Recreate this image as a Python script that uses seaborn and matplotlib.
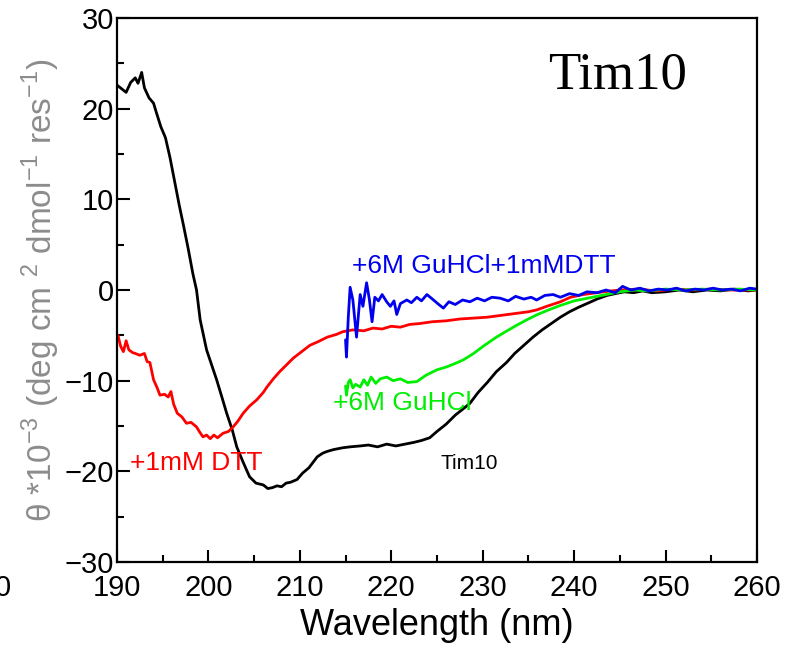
import numpy as np
import pandas as pd
import matplotlib
matplotlib.use("Agg")
import matplotlib.pyplot as plt
import seaborn as sns
from matplotlib.ticker import MultipleLocator

# Tim10 native
wl_native = [190, 190.5, 191, 191.5, 192, 192.3, 192.7, 193, 193.5, 194, 194.3, 194.8,
             195.3, 195.8, 196.3, 196.8, 197.3, 197.8, 198.3, 198.7, 199.1, 199.8, 200.4,
             200.9, 201.5, 202.0, 202.6, 203.1, 203.8, 204.5, 205.2, 206.0, 206.5, 207.0,
             207.5, 208.0, 208.5, 209.0, 209.7, 210.3, 211.0, 211.9, 212.5, 213.0, 213.7,
             214.7, 215.5, 216.6, 217.5, 218.5, 219.5, 220.5, 221.5, 222.5, 223.3, 224.2,
             225.0, 226.0, 227.0, 228.0, 228.6, 229.5, 230.5, 231.5, 232.6, 233.5, 234.5,
             235.5, 236.5, 237.5, 238.5, 239.5, 240.5, 241.4, 242.5, 243.6, 244.5, 245.5,
             246.5, 247.5, 248.5, 250, 251.5, 253, 254.5, 256, 257.5, 259, 260]
theta_native = [22.6, 22.2, 21.8, 22.9, 23.4, 22.8, 24.0, 22.3, 21.2, 20.6, 19.6, 18.0,
                16.8, 14.6, 12.0, 9.4, 7.0, 4.5, 1.8, 0.0, -3.3, -6.6, -8.4,
                -9.9, -11.9, -13.6, -15.4, -17.3, -19.0, -20.6, -21.3, -21.5, -21.9, -21.8,
                -21.6, -21.7, -21.3, -21.2, -20.9, -20.2, -19.6, -18.4, -18.0, -17.8, -17.6,
                -17.4, -17.3, -17.2, -17.1, -17.3, -17.0, -17.2, -17.0, -16.8, -16.6, -16.3,
                -15.6, -14.8, -13.8, -13.0, -12.5, -11.3, -10.2, -9.0, -8.0, -7.0, -6.1,
                -5.2, -4.4, -3.7, -3.0, -2.4, -1.9, -1.5, -1.0, -0.6, -0.4, -0.2,
                -0.3, -0.1, -0.3, -0.2, 0.0, -0.2, 0.0, -0.1, 0.1, -0.1, 0.0]

# +1mM DTT
wl_dtt = [190, 190.1, 190.4, 190.7, 191.0, 191.3, 191.7, 192.0, 192.5, 193.0, 193.3, 193.6,
          194.0, 194.4, 194.7, 195.2, 195.6, 195.9, 196.2, 196.6, 197.1, 197.6, 198.1,
          198.7, 199.0, 199.4, 199.8, 200.2, 200.6, 201.0, 201.6, 202.2, 202.7, 203.2,
          203.8, 204.5, 205.3, 206.0, 206.4, 207.1, 207.8, 208.5, 209.3, 210.2, 211.1,
          212.0, 213.0, 214.0, 214.7, 215.8, 217.0, 218.0, 219.0, 220.0, 221.0, 222.0,
          223.1, 224.5, 226.0, 227.5, 229.0, 230.5, 232.0, 233.5, 235.0, 235.9, 237.0,
          238.5, 239.6, 241.0, 243.2, 245, 247, 249, 251, 253, 255, 257, 260]
theta_dtt = [-5.5, -5.0, -6.2, -6.8, -5.6, -6.6, -6.9, -7.0, -7.2, -7.0, -7.9, -8.0,
             -9.9, -10.8, -11.6, -11.5, -11.8, -11.2, -12.6, -13.6, -14.0, -14.7, -14.6,
             -15.1, -15.6, -16.2, -16.0, -16.4, -16.0, -16.3, -15.8, -15.6, -15.1, -14.5,
             -13.6, -12.8, -12.1, -11.3, -10.7, -9.8, -9.0, -8.3, -7.5, -6.8, -6.1,
             -5.7, -5.2, -4.9, -4.6, -4.4, -4.5, -4.2, -4.3, -4.0, -4.1, -3.8,
             -3.7, -3.5, -3.4, -3.2, -3.1, -3.0, -2.8, -2.6, -2.4, -2.2, -1.8,
             -1.3, -0.8, -0.5, -0.2, 0.0, 0.1, -0.1, 0.1, 0.0, 0.1, 0.0, 0.0]

# +6M GuHCl
wl_guhcl = [215.0, 215.1, 215.3, 215.5, 215.8, 216.1, 216.6, 217.0, 217.4, 217.8, 218.3,
            218.8, 219.5, 220.2, 221.0, 221.8, 222.8, 223.8, 225.0, 226.0, 227.0, 227.9,
            229.0, 230.2, 231.5, 232.5, 233.7, 234.8, 236.0, 237.2, 238.5, 240.0, 242.0,
            243.5, 245.0, 246.5, 248, 250, 252, 254, 256, 258, 260]
theta_guhcl = [-10.6, -11.6, -10.2, -9.9, -10.8, -10.4, -10.7, -9.9, -10.5, -9.6, -10.3,
               -9.8, -9.6, -10.0, -9.8, -10.2, -10.1, -9.4, -8.8, -8.5, -8.1, -7.7,
               -7.0, -6.1, -5.2, -4.6, -3.9, -3.3, -2.7, -2.2, -1.7, -1.2, -0.8,
               -0.5, -0.2, 0.0, -0.1, 0.1, 0.0, 0.1, 0.0, 0.1, 0.0]

# +6M GuHCl + 1mM DTT
wl_both = [215.0, 215.1, 215.3, 215.5, 215.8, 216.2, 216.6, 216.9, 217.3, 217.6, 217.9,
           218.2, 218.6, 219.0, 219.5, 219.9, 220.3, 220.6, 221.0, 221.7, 222.2, 222.8,
           223.3, 223.9, 224.5, 225.2, 225.7, 226.3, 227.0, 227.8, 228.6, 229.4, 230.2,
           231.0, 231.9, 232.8, 233.6, 234.5, 235.3, 235.9, 236.8, 237.7, 238.5, 239.5,
           240.5, 241.4, 242.5, 243.5, 244.5, 245.3, 246.2, 247.2, 248.2, 249.2, 250.2,
           251.2, 252.2, 253.2, 254.2, 255.2, 256.2, 257.2, 258.2, 259.2, 260]
theta_both = [-5.5, -7.4, -3.0, 0.3, -1.1, -5.2, -0.5, -1.8, 0.8, -1.0, -3.5,
              -0.8, -1.2, -0.5, -1.3, -1.8, -1.2, -2.7, -1.5, -1.1, -1.4, -0.8,
              -1.2, -0.5, -1.0, -1.6, -2.0, -1.3, -1.6, -1.1, -1.3, -0.9, -1.2,
              -0.8, -0.9, -1.2, -0.7, -1.0, -0.8, -1.1, -0.6, -0.5, -0.8, -0.4,
              -0.6, -0.2, -0.3, 0.0, -0.3, 0.4, 0.0, 0.2, -0.1, 0.1, 0.0,
              0.2, -0.1, 0.1, 0.0, 0.2, 0.0, 0.1, -0.1, 0.2, 0.1]

series_names = ["Tim10", "+1mM DTT", "+6M GuHCl", "+6M GuHCl+1mMDTT"]
series_colors = ["black", "#ff0000", "#00ee00", "#0000ee"]

df = pd.concat([
    pd.DataFrame({"wl": wl_native, "theta": theta_native, "sample": "Tim10"}),
    pd.DataFrame({"wl": wl_dtt, "theta": theta_dtt, "sample": "+1mM DTT"}),
    pd.DataFrame({"wl": wl_guhcl, "theta": theta_guhcl, "sample": "+6M GuHCl"}),
    pd.DataFrame({"wl": wl_both, "theta": theta_both, "sample": "+6M GuHCl+1mMDTT"}),
], ignore_index=True)

sns.set_style("white")
plt.rcParams["font.family"] = ["Liberation Sans", "DejaVu Sans"]
plt.rcParams["mathtext.fontset"] = "custom"
plt.rcParams["mathtext.rm"] = "Liberation Sans"
plt.rcParams["text.color"] = "black"
plt.rcParams["axes.labelcolor"] = "black"
plt.rcParams["xtick.color"] = "black"
plt.rcParams["ytick.color"] = "black"

fig = plt.figure(figsize=(8.09, 6.55), dpi=100)
ax = fig.add_axes([0.1446, 0.142, 0.7911, 0.8305])

sns.lineplot(data=df, x="wl", y="theta", hue="sample", hue_order=series_names,
             palette=dict(zip(series_names, series_colors)), estimator=None,
             sort=False, linewidth=2.0, legend=False, ax=ax)

ax.set_xlim(190, 260)
ax.set_ylim(-30, 30)
ax.xaxis.set_major_locator(MultipleLocator(10))
ax.xaxis.set_minor_locator(MultipleLocator(5))
ax.yaxis.set_major_locator(MultipleLocator(10))
ax.yaxis.set_minor_locator(MultipleLocator(5))
ax.tick_params(which="both", direction="in", bottom=True, left=True, top=False,
               right=False, width=1.5, color="black")
ax.tick_params(which="major", length=9)
ax.tick_params(which="minor", length=5)
ax.tick_params(axis="y", labelsize=21, pad=2, labelcolor="black")
ax.tick_params(axis="x", labelsize=21, pad=9, labelcolor="black")
for s in ax.spines.values():
    s.set_linewidth(1.6)
    s.set_color("black")

ax.set_xlabel("Wavelength (nm)", fontsize=26, labelpad=4, color="black")
ax.set_ylabel(r"θ *10$^{-3}$ (deg cm $^{2}$ dmol$^{-1}$ res$^{-1}$)", fontsize=24,
              color="#8c8c8c", labelpad=2)

ax.text(215.7, 2.6, "+6M GuHCl+1mMDTT", color="#0000ee", fontsize=19, va="center")
ax.text(213.6, -12.5, "+6M GuHCl", color="#00ee00", fontsize=19, va="center")
ax.text(191.4, -19.1, "+1mM DTT", color="#ff0000", fontsize=19, va="center")
ax.text(225.4, -19.1, "Tim10", color="black", fontsize=15, va="center")
ax.text(237.2, 23.7, "Tim10", color="black", fontsize=38, va="center",
        family="Liberation Serif")

fig.text(-0.006, 1 - 588 / 655, "0", fontsize=21, ha="left", va="center")

fig.savefig("out.png", dpi=100)
